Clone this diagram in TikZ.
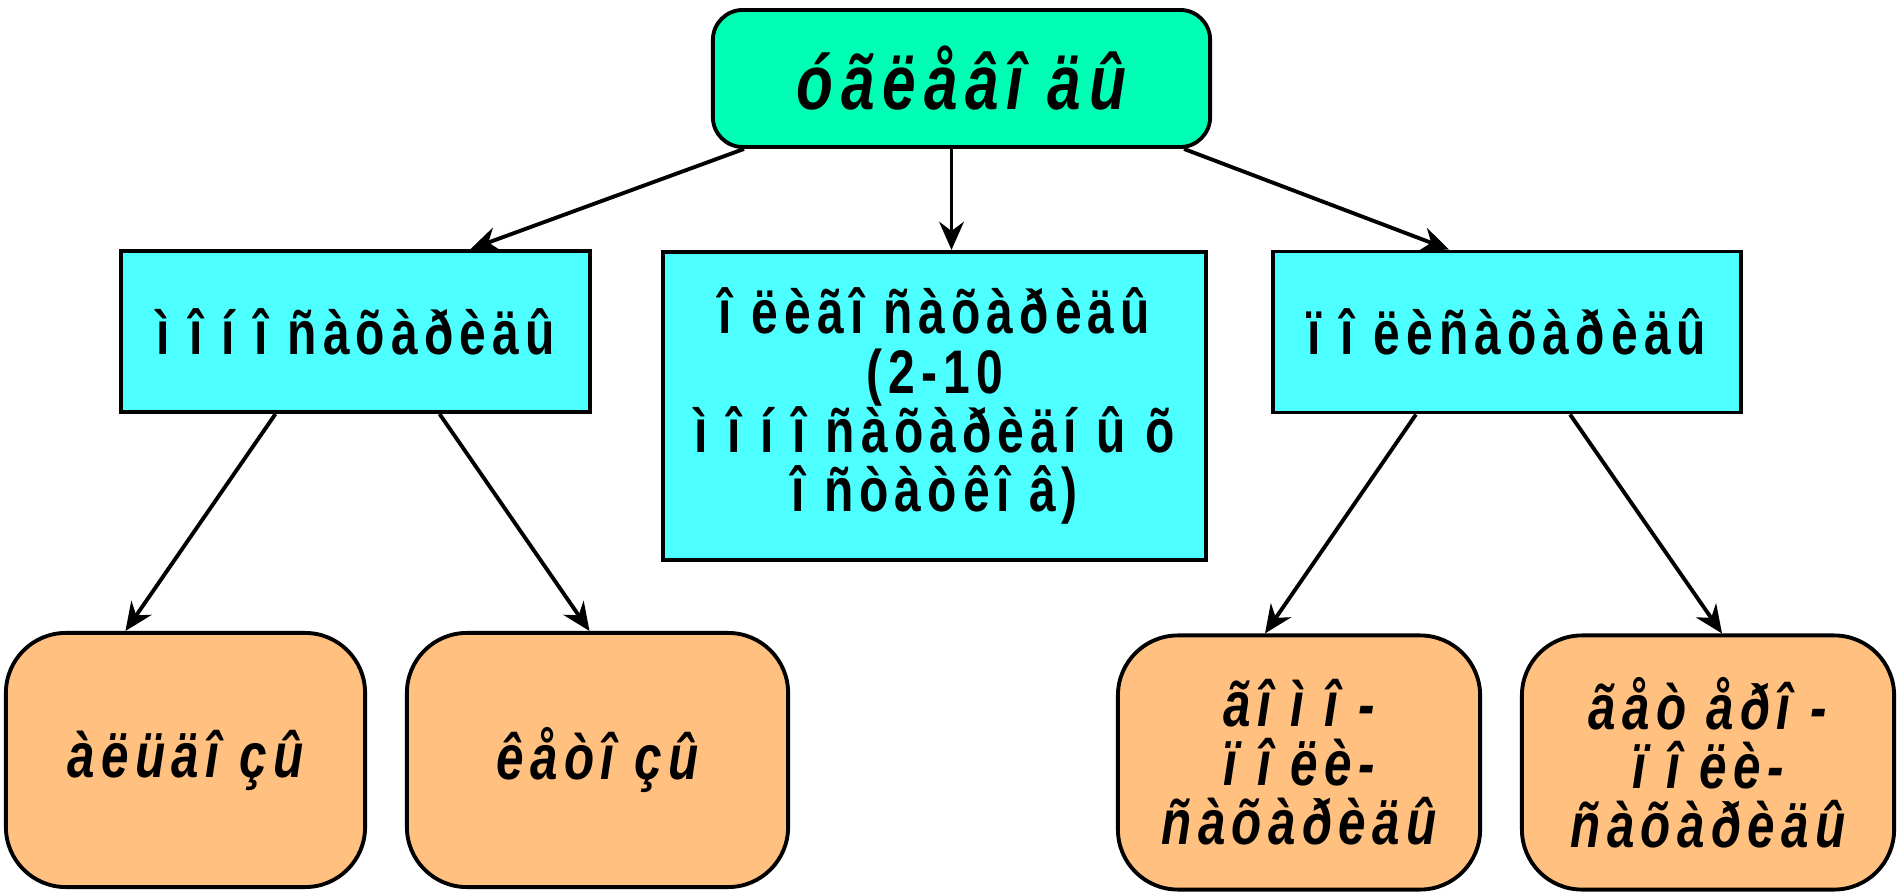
\documentclass[tikz,border=0pt]{standalone}
\usepackage{fontspec}
\setmainfont{Liberation Sans}[FakeStretch=0.78, LetterSpace=10]
\usetikzlibrary{arrows.meta,calc}
\definecolor{topfill}{HTML}{00FFB4}
\definecolor{midfill}{HTML}{4DFFFF}
\definecolor{leaffill}{HTML}{FFC080}
\tikzset{
  topbox/.style={draw=black, line width=1.1pt, fill=topfill, rounded corners=0.3cm,
    minimum width=4.97cm, minimum height=1.37cm, font=\fontsize{22}{24}\selectfont\bfseries\itshape},
  midbox/.style={draw=black, line width=1.1pt, fill=midfill, minimum height=1.61cm,
    align=center, font=\fontsize{17.5}{16.8}\selectfont\bfseries},
  leafbox/.style={draw=black, line width=1.1pt, fill=leaffill, rounded corners=0.6cm,
    minimum height=2.54cm, align=center, font=\fontsize{18}{16.8}\selectfont\bfseries\itshape},
  arr/.style={draw=black, line width=1.1pt, -{Stealth[length=8pt,width=7pt]}}
}

\begin{document}
\begin{tikzpicture}[x=0.01cm, y=-0.01cm]
  \useasboundingbox (0,0) rectangle (1901,895);

  \node[topbox] (sugars) at (961.5,78.5) {óãëåâî äû};

  \node[midbox, minimum width=4.69cm] (mono) at (355.5,331.5) {ì î í î ñàõàðèäû};
  \node[midbox, minimum width=5.43cm, minimum height=3.08cm] (oligo) at (934.5,406)
    {î ëèãî ñàõàðèäû\\(2-10\\ì î í î ñàõàðèäí û õ\\î ñòàòêî â)};
  \node[midbox, minimum width=4.68cm] (poly) at (1507,332) {ï î ëèñàõàðèäû};

  \node[leafbox, minimum width=3.59cm] (aldo) at (185.5,760) {àëüäî çû};
  \node[leafbox, minimum width=3.81cm] (keto) at (597.5,760) {êåòî çû};
  \node[leafbox, minimum width=3.62cm] (homo) at (1299,762.5) {ãî ì î -\\ï î ëè-\\ñàõàðèäû};
  \node[leafbox, minimum width=3.72cm] (hetero) at (1708,762.5) {ãåò åðî -\\ï î ëè-\\ñàõàðèäû};

  \draw[arr] ([xshift=0.33cm]sugars.south west) -- ([xshift=1.15cm]mono.north);
  \draw[arr] ([xshift=-0.1cm]sugars.south) -- ([xshift=-0.1cm]sugars.south |- oligo.north);
  \draw[arr] ([xshift=-0.28cm]sugars.south east) -- ([xshift=-0.58cm]poly.north);

  \draw[arr] ([xshift=-0.8cm]mono.south) -- ([xshift=-0.6cm]aldo.north);
  \draw[arr] ([xshift=0.84cm]mono.south) -- ([xshift=-0.08cm]keto.north);
  \draw[arr] ([xshift=-0.91cm]poly.south) -- ([xshift=-0.34cm]homo.north);
  \draw[arr] ([xshift=0.63cm]poly.south) -- ([xshift=0.14cm]hetero.north);
\end{tikzpicture}
\end{document}
